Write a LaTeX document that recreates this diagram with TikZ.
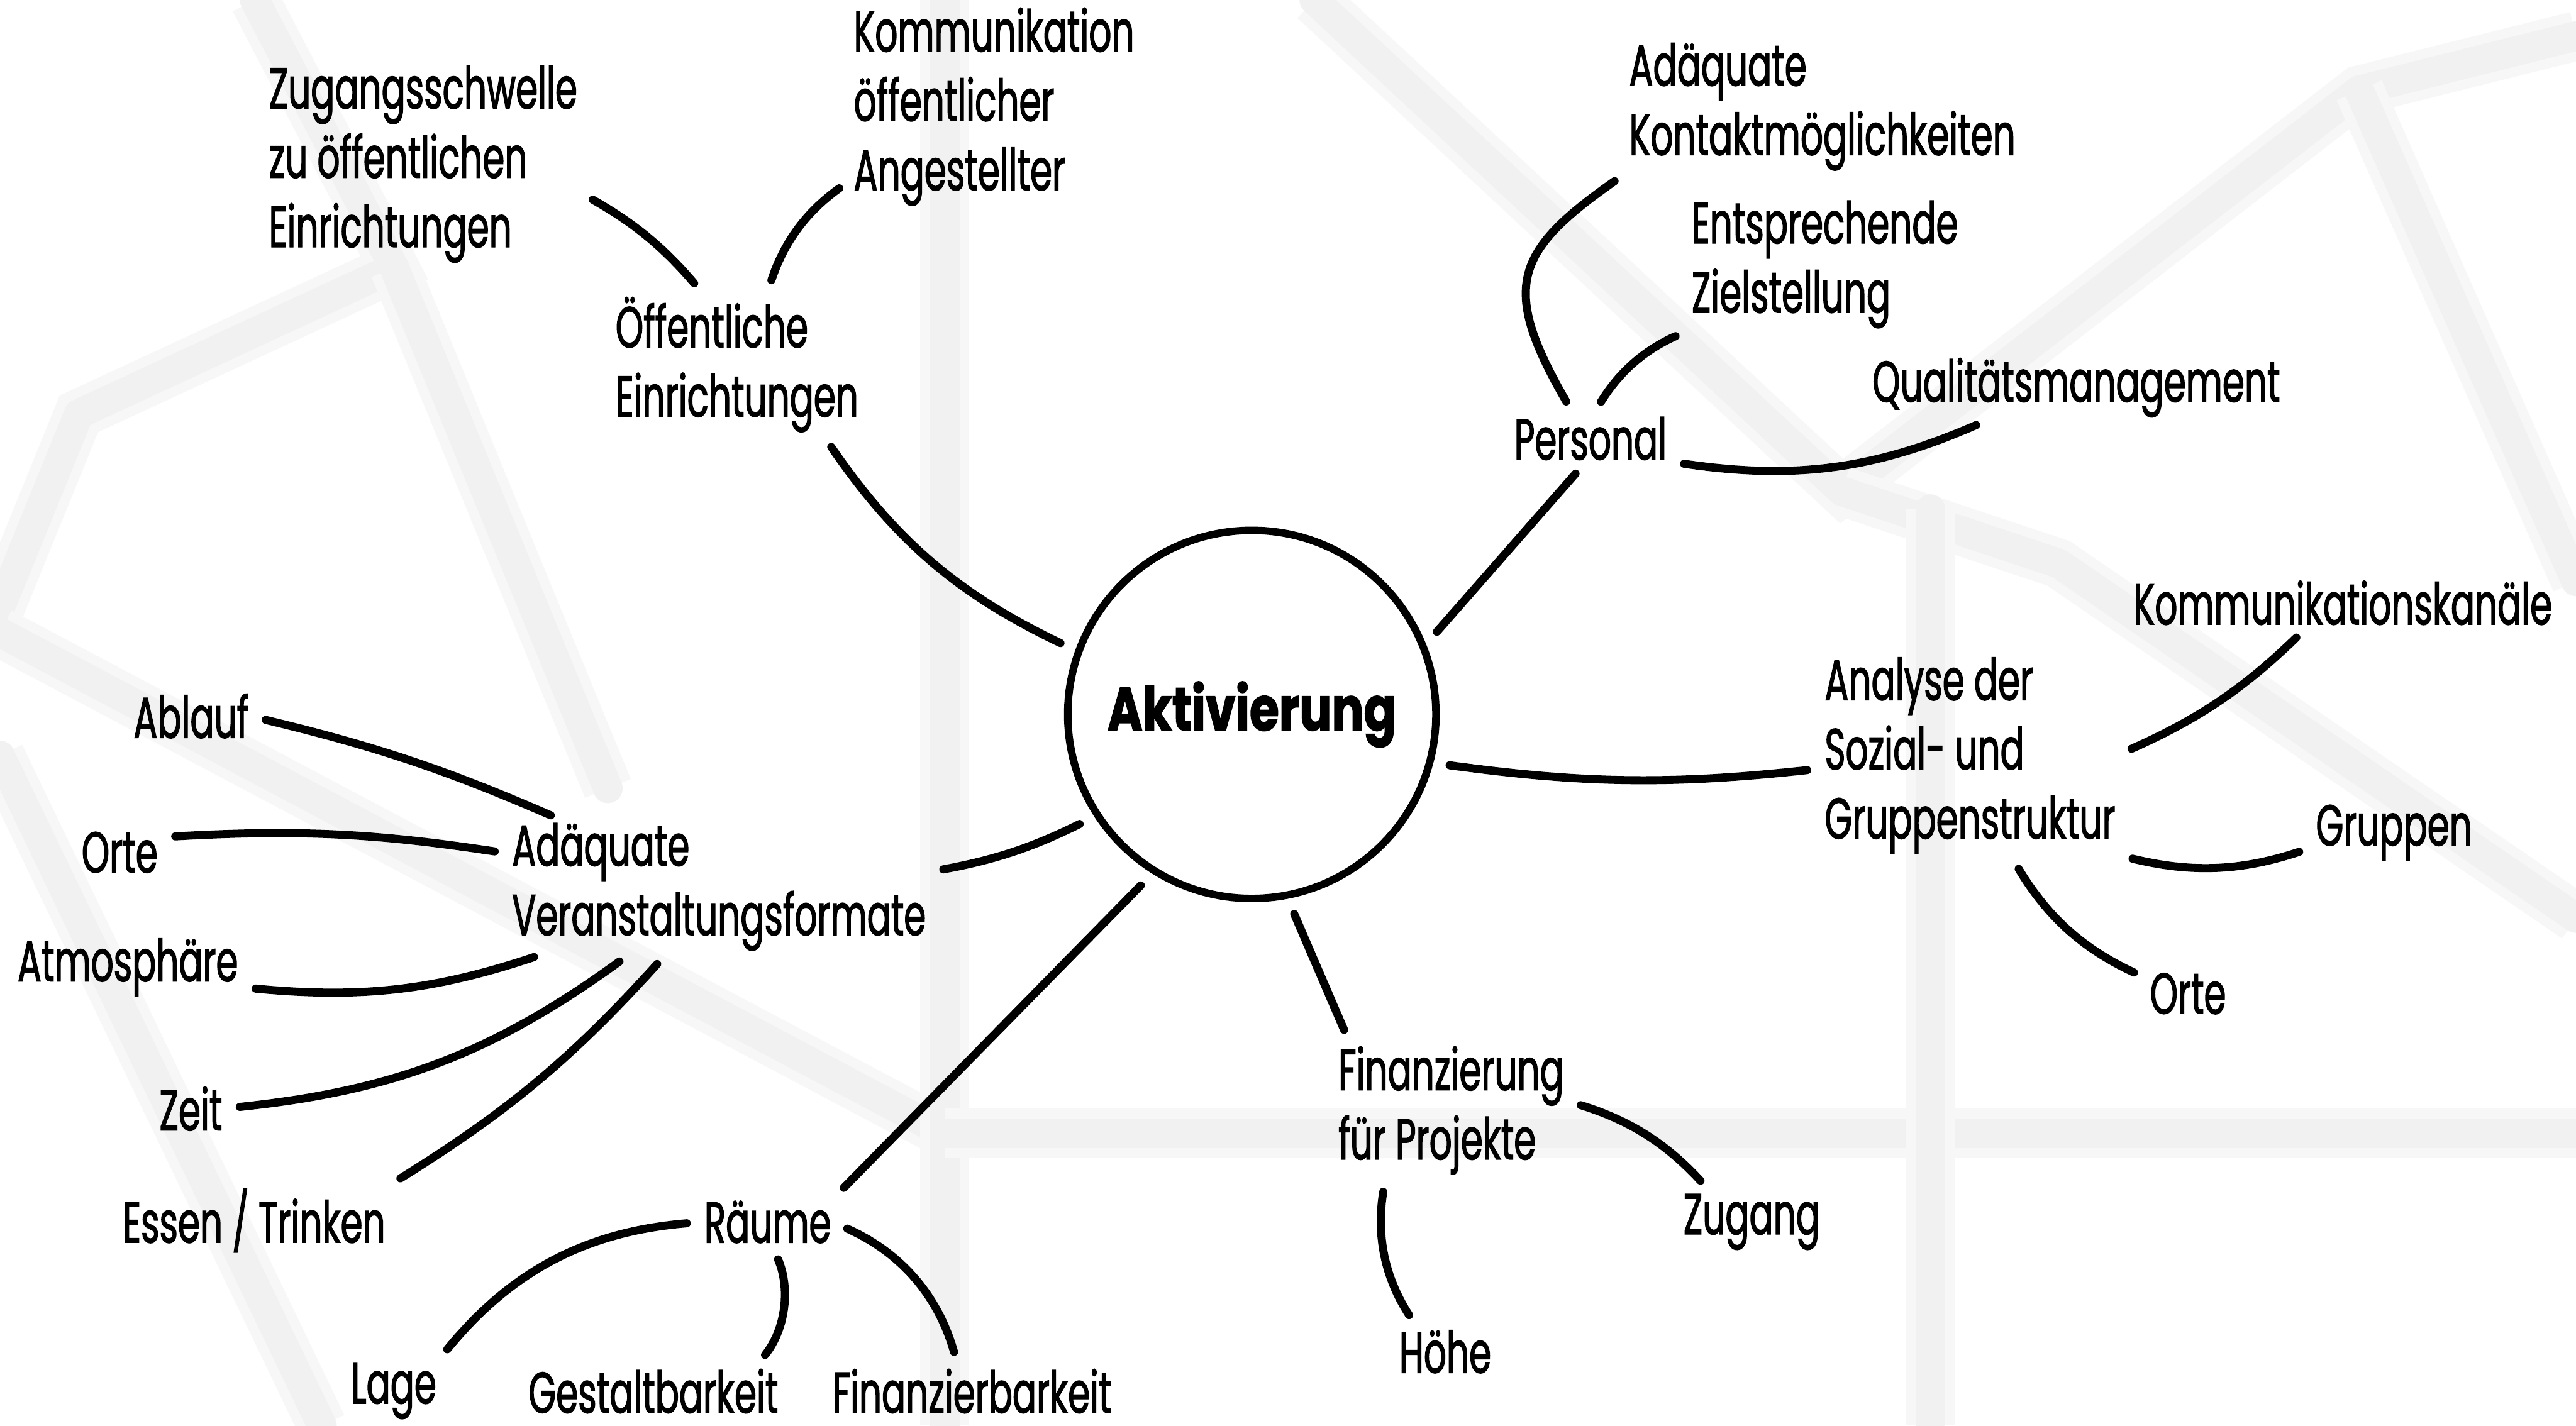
\documentclass[tikz,border=0pt]{standalone}
\usepackage{fontspec}
\setmainfont{Poppins}[FakeStretch=0.614, FakeBold=1.4]
\newfontfamily\hubfont{Poppins}[FakeStretch=0.78, BoldFeatures={FakeBold=1.6}]
\usepackage{tikz}
\definecolor{ink}{HTML}{000000}
\definecolor{webgrey}{HTML}{F1F1F1}
\definecolor{webhaze}{HTML}{F7F7F7}

\begin{document}
\begin{tikzpicture}[x=0.01cm, y=-0.01cm,
  web/.style={draw=webgrey, line width=0.18cm, line cap=round, line join=round,
    preaction={draw=webhaze, line width=0.3cm}},
  topic/.style={font=\fontsize{10}{12}\selectfont, text=ink, align=left, anchor=west, inner sep=0pt},
  hub/.style={circle, draw=ink, line width=1.3pt, minimum size=2.24cm, inner sep=0pt, font=\hubfont\bfseries\fontsize{10.6}{12}\selectfont},
  brush/.style={draw=ink, line width=1.4pt, line cap=round, shorten <=1mm, shorten >=1mm},
]
\fill[white] (0,0) rectangle (1568,868);
\useasboundingbox (0,0) rectangle (1568,868);

% faint web behind the map
\draw[web] (155,0) -- (240,163) -- (48,252) -- (0,370);
\draw[web] (240,163) -- (370,480);
\draw[web] (0,385) -- (575,690);
\draw[web] (0,460) -- (196,868);
\draw[web] (575,0) -- (575,868);
\draw[web] (575,690) -- (1568,690);
\draw[web] (800,0) -- (1121,299) -- (1436,55) -- (1568,22);
\draw[web] (1436,55) -- (1568,354);
\draw[web] (1121,299) -- (1253,343) -- (1568,559);
\draw[web] (1175,310) -- (1175,868);

% centre
\node[hub] (hub) at (762,435) {Aktivierung};

% topics, left edge of the text at the coordinate
\node[topic] (pub) at (374,222) {Öffentliche\\Einrichtungen};
\node[topic] (zug) at (163,100) {Zugangsschwelle\\zu öffentlichen\\Einrichtungen};
\node[topic] (kom) at (519,65) {Kommunikation\\öffentlicher\\Angestellter};
\node[topic] (per) at (921,267) {Personal};
\node[topic] (kon) at (991,65) {Adäquate\\Kontaktmöglichkeiten};
\node[topic] (zie) at (1029,161) {Entsprechende\\Zielstellung};
\node[topic] (qua) at (1139,236) {Qualitätsmanagement};
\node[topic] (ana) at (1110,460) {Analyse der\\Sozial- und\\Gruppenstruktur};
\node[topic] (kan) at (1298,367) {Kommunikationskanäle};
\node[topic] (gru) at (1409,507) {Gruppen};
\node[topic] (ortr) at (1308,605) {Orte};
\node[topic] (fin) at (814,676) {Finanzierung\\für Projekte};
\node[topic] (zga) at (1024,744) {Zugang};
\node[topic] (hoe) at (851,823) {Höhe};
\node[topic] (rau) at (428,744) {Räume};
\node[topic] (lag) at (213,847) {Lage};
\node[topic] (ges) at (321,847) {Gestaltbarkeit};
\node[topic] (fnz) at (506,847) {Finanzierbarkeit};
\node[topic] (avf) at (311,540) {Adäquate\\Veranstaltungsformate};
\node[topic, anchor=east] (abl) at (152,436) {Ablauf};
\node[topic] (ortl) at (49,519) {Orte};
\node[topic] (atm) at (10,589) {Atmosphäre};
\node[topic, anchor=east] (zei) at (136,675) {Zeit};
\node[topic] (ess) at (74,743) {Essen / Trinken};

% branches
\draw[brush] (hub.160) to[bend left=15] (pub.-39);
\draw[brush] (pub.115) to[bend right=10] (zug.-10);
\draw[brush] (pub.67) to[bend left=18] (kom.207);
\draw[brush] (hub.22) -- (per.-100);
\draw[brush] (per.125) to[out=120, in=215, out distance=0.9cm, in distance=0.85cm] (kon.south west);
\draw[brush] (per.85) to[bend left=17] (zie.south west);
\draw[brush] (per.south east) to[bend right=16] (qua.-160);
\draw[brush] (hub.-15) to[bend right=7] (ana.185);
\draw[brush] (ana.east) to[bend right=10] (kan.-146);
\draw[brush] (ana.south east) to[bend right=16] (gru.190);
\draw[brush] (ana.-68) to[bend right=17] (ortr.160);
\draw[brush] (hub.-79) -- (fin.147);
\draw[brush] (fin.5) to[bend left=15] (zga.144);
\draw[brush] (fin.-135) to[bend right=21] (hoe.140);
\draw[brush] (hub.213) to[bend left=8] (avf.4);
\draw[brush] (hub.238) -- (rau.north east);
\draw[brush] (rau.west) to[bend right=23] (lag.34);
\draw[brush] (rau.-80) to[bend left=31] (ges.13);
\draw[brush] (rau.east) to[bend left=25] (fnz.120);
\draw[brush] (avf.157) to[bend right=5] (abl.east);
\draw[brush] (avf.171) to[bend right=6] (ortl.21);
\draw[brush] (avf.201) to[bend left=12] (atm.-10);
\draw[brush] (avf.217) to[bend left=15] (zei.east);
\draw[brush] (avf.232) to[bend left=8] (ess.north east);
\end{tikzpicture}
\end{document}
